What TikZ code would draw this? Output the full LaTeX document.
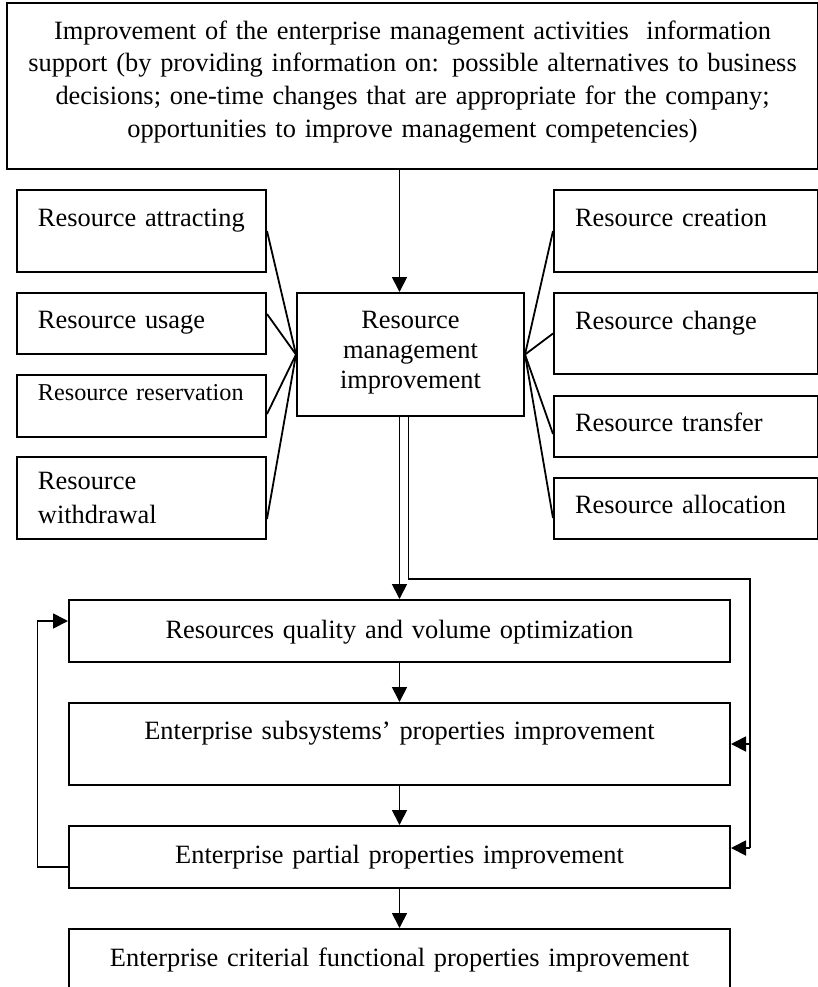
\documentclass[tikz,border=0pt]{standalone}
\usepackage{fontspec}
\setmainfont{Liberation Serif}
\usetikzlibrary{arrows.meta}
\tikzset{
  box/.style={draw, line width=1pt, inner ysep=0pt, anchor=north west,
    font=\fontsize{13.2}{16.35}\selectfont},
  leftbox/.style={box, inner xsep=10.5pt, text width=103.5pt, align=left},
  rightbox/.style={box, inner xsep=10.5pt, text width=111pt, align=left},
  rowbox/.style={box, inner xsep=0pt, text width=330.5pt, align=center},
  wire/.style={line width=0.9pt},
  arr/.style={line width=0.9pt, -{Triangle[length=7.5pt,width=7.5pt]}}
}
\begin{document}
\begin{tikzpicture}[x=0.5pt,y=-0.5pt]
            \useasboundingbox (0,0) rectangle (818,987);

            \node[box, inner xsep=0pt, text width=405.5pt, align=center, text height=18pt, text depth=65pt] (info) at (6,2)
                {Improvement of the enterprise management activities~ information\\
                 support (by providing information on: possible alternatives to business\\
                 decisions; one-time changes that are appropriate for the company;\\
                 opportunities to improve management competencies)};

            \node[box, inner xsep=0pt, text width=113.5pt, align=center, text height=17.5pt, text depth=44pt,
                  font=\fontsize{13.2}{15}\selectfont] (mgmt) at (296,292) {Resource\\management\\improvement};

            \node[leftbox, text height=18pt, text depth=23pt] (attract) at (16,189) {Resource attracting};
            \node[leftbox, text height=17.5pt, text depth=13pt] (usage) at (16,292) {Resource usage};
            \node[leftbox, text height=12.5pt, text depth=18.5pt, font=\fontsize{12.1}{15}\selectfont] (reserve) at (16,374) {Resource reservation};
            \node[leftbox, text height=16pt, text depth=25pt, font=\fontsize{13.2}{17}\selectfont] (withdraw) at (16,456) {Resource\\withdrawal};

            \node[rightbox, text height=18pt, text depth=23pt] (create) at (553,189) {Resource creation};
            \node[rightbox, text height=18pt, text depth=22.5pt] (change) at (553,292) {Resource change};
            \node[rightbox, text height=17.5pt, text depth=13pt] (transfer) at (553,395) {Resource transfer};
            \node[rightbox, text height=17.5pt, text depth=13pt] (alloc) at (553,477) {Resource allocation};

            \node[rowbox, text height=19pt, text depth=12pt] (quality) at (68,599) {Resources quality and volume optimization};
            \node[rowbox, text height=18pt, text depth=23pt] (subsys) at (68,702) {Enterprise subsystems’ properties improvement};
            \node[rowbox, text height=18.5pt, text depth=12.5pt] (partial) at (68,825) {Enterprise partial properties improvement};
            \node[rowbox, text height=18.5pt, text depth=15pt] (criterial) at (68,928) {Enterprise criterial functional properties improvement};

            \draw[arr] (info.south -| quality.north) -- (mgmt.north -| quality.north);

            \draw[wire] (attract.east) -- (mgmt.west);
            \draw[wire] ([yshift=4.75pt]usage.east) -- (mgmt.west);
            \draw[wire] ([yshift=-4pt]reserve.east) -- (mgmt.west);
            \draw[wire] ([yshift=-10.5pt]withdraw.east) -- (mgmt.west);

            \draw[wire] (mgmt.east) -- (create.west);
            \draw[wire] (mgmt.east) -- (change.west);
            \draw[wire] (mgmt.east) -- ([yshift=-3.75pt]transfer.west);
            \draw[wire] (mgmt.east) -- ([yshift=-4.75pt]alloc.west);

            \draw[arr] (mgmt.south -| quality.north) -- (quality.north);
            \draw[arr] (quality.south) -- (subsys.north);
            \draw[arr] (subsys.south) -- (partial.north);
            \draw[arr] (partial.south) -- (criterial.north);

            \coordinate (bend) at (750,579);
            \coordinate (pin) at ([yshift=4.5pt]partial.east);
            \draw[wire] ([xshift=4.5pt]quality.north |- mgmt.south) |- (bend) -- (bend |- pin);
            \draw[arr] (bend |- subsys.east) -- (subsys.east);
            \draw[arr] (bend |- pin) -- (pin);

            \coordinate (loop) at (37.5,740);
            \draw[arr] ([yshift=-5pt]partial.west) -| (loop) |- ([yshift=5pt]quality.west);
\end{tikzpicture}
\end{document}
